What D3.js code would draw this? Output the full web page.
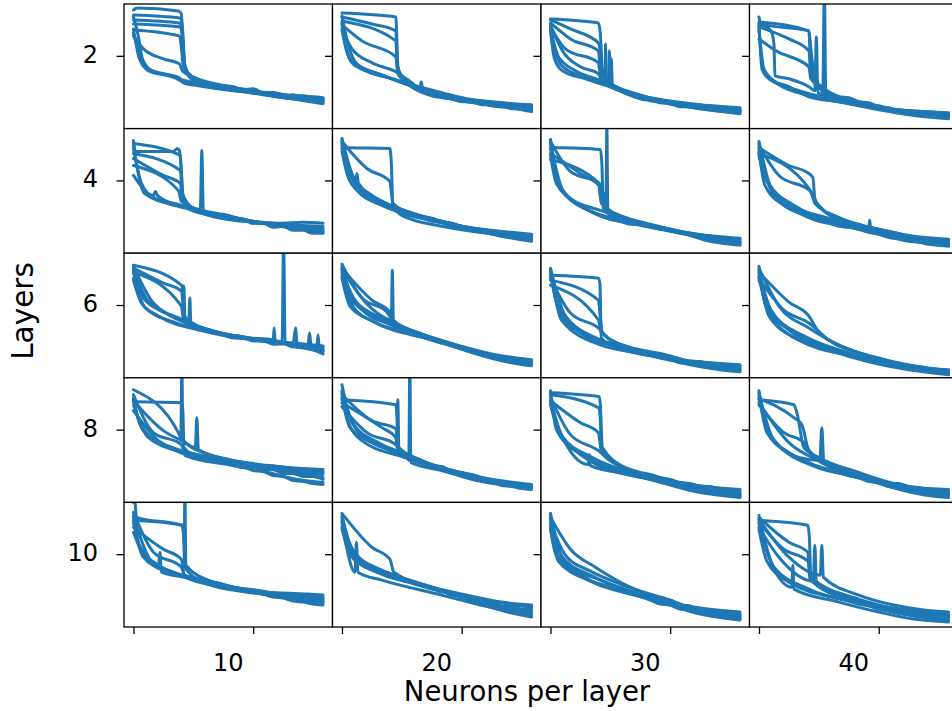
<!DOCTYPE html>
<html>
<head>
<meta charset="utf-8">
<script src="https://cdn.jsdelivr.net/npm/d3@7"></script>
<style>
  body { margin: 0; background: #fff; }
  text { font-family: "DejaVu Sans", sans-serif; fill: #000; }
</style>
</head>
<body>
<svg id="chart" width="952" height="711"></svg>
<script>
// Grid of training-loss curves: one panel per (layers, neurons per layer) setting,
// each panel holding several runs as [epoch, loss] pairs.
const layers = [2, 4, 6, 8, 10];
const neurons = [10, 20, 30, 40];
const epochTicks = [0, 1200];
const lossTicks = [0.73];

const L2_N10 = [
  [[0,1.19],[40,1.21],[450,1.18],[480,1.15],[495,0.90],[515,0.62],[560,0.53],[700,0.47],[1000,0.40],[1200,0.38],[1350,0.35],[1500,0.34],[1650,0.32],[1800,0.32],[1900,0.31]],
  [[0,1.09],[460,1.06],[485,1.00],[505,0.70],[540,0.57],[650,0.49],[900,0.43],[1000,0.42],[1100,0.39],[1200,0.40],[1300,0.36],[1400,0.36],[1500,0.33],[1600,0.34],[1700,0.31],[1800,0.31],[1900,0.29]],
  [[0,1.05],[470,1.02],[490,0.92],[510,0.63],[570,0.53],[800,0.44],[1050,0.40],[1200,0.37],[1400,0.36],[1600,0.31],[1750,0.30],[1900,0.28]],
  [[0,0.99],[460,0.93],[480,0.82],[500,0.62],[580,0.51],[900,0.42],[1150,0.39],[1300,0.35],[1500,0.33],[1700,0.29],[1900,0.27]],
  [[0,0.93],[100,0.80],[300,0.70],[460,0.65],[490,0.58],[620,0.51],[1000,0.41],[1100,0.38],[1200,0.39],[1300,0.35],[1400,0.36],[1500,0.34],[1600,0.33],[1700,0.33],[1800,0.31],[1900,0.30]],
  [[0,0.96],[70,0.73],[150,0.60],[300,0.55],[460,0.51],[500,0.46],[650,0.43],[1000,0.38],[1200,0.36],[1400,0.33],[1600,0.32],[1750,0.29],[1900,0.28]],
  [[0,1.12],[50,0.92],[90,0.70],[180,0.58],[400,0.52],[490,0.47],[700,0.43],[1100,0.37],[1300,0.34],[1500,0.31],[1700,0.29],[1900,0.26]],
  [[0,1.14],[470,1.11],[490,1.02],[515,0.62],[600,0.48],[800,0.42],[1000,0.39],[1300,0.35],[1500,0.34],[1700,0.31],[1900,0.30]],
  [[0,1.00],[60,0.70],[150,0.58],[350,0.53],[480,0.49],[700,0.44],[1000,0.40],[1200,0.37],[1450,0.32],[1650,0.29],[1900,0.25]]
];
const L2_N20 = [
  [[0,1.16],[540,1.12],[550,0.90],[560,0.60],[620,0.48],[900,0.34],[1100,0.31],[1300,0.27],[1500,0.26],[1700,0.23],[1900,0.22]],
  [[0,1.12],[300,1.05],[540,0.98],[555,0.65],[600,0.52],[900,0.33],[1000,0.31],[1100,0.30],[1200,0.27],[1300,0.27],[1400,0.24],[1500,0.25],[1600,0.22],[1700,0.22],[1800,0.21],[1900,0.20]],
  [[0,1.08],[540,0.88],[555,0.62],[650,0.47],[1000,0.32],[1250,0.27],[1500,0.24],[1700,0.21],[1900,0.19]],
  [[0,1.04],[200,0.88],[540,0.72],[560,0.55],[700,0.43],[1100,0.30],[1350,0.27],[1600,0.24],[1900,0.21]],
  [[0,1.00],[100,0.80],[300,0.66],[540,0.57],[700,0.46],[780,0.40],[795,0.47],[810,0.39],[1000,0.34],[1100,0.31],[1200,0.31],[1300,0.27],[1400,0.27],[1500,0.23],[1600,0.23],[1700,0.20],[1800,0.20],[1900,0.18]],
  [[0,0.98],[80,0.70],[200,0.60],[500,0.50],[800,0.40],[1000,0.35],[1200,0.30],[1450,0.27],[1700,0.25],[1900,0.23]],
  [[0,1.13],[60,0.85],[150,0.65],[400,0.54],[600,0.46],[1000,0.34],[1250,0.28],[1500,0.23],[1750,0.20],[1900,0.17]],
  [[0,1.06],[40,0.80],[120,0.64],[350,0.55],[600,0.47],[1000,0.36],[1250,0.30],[1500,0.27],[1700,0.25],[1900,0.24]]
];
const L2_N30 = [
  [[0,1.09],[200,1.00],[480,0.86],[495,0.80],[505,0.55],[600,0.45],[900,0.31],[1100,0.27],[1300,0.24],[1600,0.21],[1900,0.19]],
  [[0,1.10],[480,1.06],[500,0.95],[520,0.60],[560,0.50],[900,0.30],[1000,0.28],[1100,0.26],[1200,0.25],[1300,0.22],[1400,0.22],[1500,0.20],[1600,0.20],[1700,0.18],[1800,0.18],[1900,0.17]],
  [[0,1.06],[200,0.90],[480,0.78],[500,0.60],[548,0.52],[552,0.85],[556,0.50],[700,0.40],[1000,0.29],[1250,0.24],[1500,0.20],[1900,0.16]],
  [[0,1.02],[150,0.80],[480,0.66],[500,0.55],[580,0.47],[590,0.78],[600,0.46],[800,0.36],[1200,0.26],[1450,0.22],[1700,0.20],[1900,0.18]],
  [[0,1.00],[80,0.72],[250,0.58],[480,0.49],[600,0.44],[610,0.70],[620,0.43],[900,0.33],[1000,0.30],[1100,0.29],[1200,0.26],[1300,0.26],[1400,0.23],[1500,0.24],[1600,0.21],[1700,0.21],[1800,0.20],[1900,0.20]],
  [[0,1.05],[50,0.75],[150,0.60],[400,0.50],[700,0.40],[1100,0.28],[1400,0.22],[1650,0.18],[1900,0.15]],
  [[0,0.98],[40,0.70],[120,0.58],[350,0.50],[600,0.42],[1000,0.31],[1250,0.27],[1500,0.24],[1750,0.22],[1900,0.21]],
  [[0,1.04],[120,0.78],[300,0.62],[480,0.55],[520,0.47],[900,0.32],[1200,0.25],[1500,0.21],[1900,0.17]]
];
const L2_N40 = [
  [[0,1.12],[20,1.05],[500,0.98],[520,0.80],[560,0.50],[700,0.33],[1000,0.25],[1300,0.20],[1600,0.16],[1900,0.14]],
  [[0,1.07],[500,0.98],[515,0.70],[540,0.52],[800,0.32],[900,0.28],[1000,0.27],[1100,0.24],[1200,0.23],[1300,0.20],[1400,0.19],[1500,0.16],[1600,0.16],[1700,0.14],[1800,0.13],[1900,0.12]],
  [[0,1.02],[300,0.90],[500,0.78],[520,0.55],[620,0.40],[640,0.36],[655,1.40],[670,0.35],[900,0.27],[1200,0.20],[1500,0.15],[1900,0.11]],
  [[0,1.05],[120,0.98],[150,0.85],[160,0.53],[300,0.50],[500,0.42],[560,0.38],[575,0.92],[590,0.36],[800,0.30],[1100,0.24],[1400,0.19],[1700,0.17],[1900,0.15]],
  [[0,0.90],[170,0.78],[500,0.62],[520,0.50],[700,0.36],[800,0.32],[900,0.31],[1000,0.27],[1100,0.26],[1200,0.22],[1300,0.21],[1400,0.18],[1500,0.18],[1600,0.15],[1700,0.15],[1800,0.13],[1900,0.13]],
  [[0,1.05],[30,0.60],[100,0.50],[300,0.42],[500,0.32],[800,0.27],[1200,0.20],[1500,0.18],[1900,0.16]],
  [[0,1.02],[40,0.62],[150,0.48],[400,0.38],[700,0.30],[1100,0.22],[1400,0.17],[1650,0.14],[1900,0.12]],
  [[0,0.98],[60,0.55],[200,0.44],[500,0.33],[900,0.25],[1200,0.19],[1500,0.14],[1900,0.10]]
];

const L4_N10 = [
  [[0,1.13],[20,1.02],[400,1.02],[440,1.05],[460,1.03],[475,0.90],[500,0.55],[560,0.44],[900,0.36],[1100,0.33],[1300,0.30],[1500,0.28],[1700,0.26],[1900,0.24]],
  [[0,1.00],[470,0.83],[490,0.60],[600,0.45],[800,0.39],[900,0.38],[1000,0.35],[1100,0.34],[1200,0.30],[1300,0.31],[1400,0.27],[1500,0.27],[1600,0.24],[1700,0.24],[1800,0.21],[1900,0.21]],
  [[0,0.88],[450,0.63],[480,0.52],[700,0.42],[1000,0.36],[1200,0.32],[1400,0.29],[1650,0.25],[1900,0.23]],
  [[0,0.78],[200,0.58],[220,0.62],[240,0.58],[450,0.48],[670,0.44],[685,1.03],[700,0.43],[900,0.39],[1100,0.34],[1350,0.29],[1600,0.25],[1900,0.22]],
  [[0,1.08],[110,0.60],[450,0.47],[700,0.41],[800,0.38],[900,0.38],[1000,0.34],[1100,0.34],[1200,0.30],[1300,0.30],[1400,0.26],[1500,0.27],[1600,0.23],[1700,0.23],[1800,0.20],[1900,0.20]],
  [[0,1.05],[80,0.70],[200,0.56],[450,0.49],[800,0.38],[1050,0.34],[1300,0.30],[1600,0.27],[1900,0.25]],
  [[0,0.95],[300,0.78],[470,0.70],[490,0.52],[800,0.39],[1100,0.33],[1400,0.30],[1650,0.28],[1900,0.27]],
  [[0,1.10],[470,0.98],[490,0.56],[650,0.42],[1000,0.33],[1250,0.31],[1500,0.30],[1700,0.31],[1900,0.30]]
];
const L4_N20 = [
  [[0,1.12],[20,1.06],[480,1.05],[495,0.90],[510,0.48],[600,0.38],[1000,0.27],[1300,0.22],[1600,0.19],[1900,0.17]],
  [[0,1.10],[100,0.78],[300,0.57],[550,0.42],[700,0.37],[800,0.35],[900,0.32],[1000,0.31],[1100,0.27],[1200,0.27],[1300,0.24],[1400,0.23],[1500,0.21],[1600,0.20],[1700,0.18],[1800,0.18],[1900,0.16]],
  [[0,1.14],[80,0.80],[200,0.62],[500,0.45],[800,0.36],[1200,0.27],[1550,0.19],[1900,0.14]],
  [[0,1.08],[60,0.85],[140,0.72],[150,0.80],[165,0.70],[400,0.52],[700,0.40],[1000,0.31],[1300,0.25],[1600,0.21],[1900,0.18]],
  [[0,1.05],[150,0.70],[400,0.52],[700,0.40],[800,0.37],[900,0.35],[1000,0.32],[1100,0.30],[1200,0.27],[1300,0.25],[1400,0.22],[1500,0.21],[1600,0.17],[1700,0.16],[1800,0.14],[1900,0.13]],
  [[0,1.12],[250,0.85],[480,0.72],[510,0.50],[800,0.36],[1100,0.28],[1400,0.21],[1700,0.17],[1900,0.15]],
  [[0,1.02],[50,0.80],[150,0.63],[400,0.48],[900,0.33],[1200,0.27],[1500,0.23],[1900,0.19]],
  [[0,1.15],[120,0.75],[300,0.58],[600,0.44],[1000,0.32],[1300,0.24],[1600,0.17],[1900,0.12]]
];
const L4_N30 = [
  [[0,1.06],[500,1.04],[515,0.90],[530,0.45],[600,0.38],[900,0.29],[1200,0.22],[1500,0.17],[1900,0.14]],
  [[0,0.94],[500,0.69],[520,0.50],[700,0.35],[800,0.32],[900,0.30],[1000,0.28],[1100,0.26],[1200,0.24],[1300,0.21],[1400,0.20],[1500,0.17],[1600,0.16],[1700,0.14],[1800,0.13],[1900,0.12]],
  [[0,1.00],[300,0.80],[500,0.66],[540,0.56],[555,0.46],[565,1.26],[575,0.44],[800,0.33],[1100,0.26],[1400,0.20],[1900,0.15]],
  [[0,1.14],[100,0.65],[400,0.42],[900,0.28],[1400,0.19],[1650,0.13],[1900,0.09]],
  [[0,1.10],[130,0.62],[450,0.40],[600,0.34],[700,0.32],[800,0.29],[900,0.29],[1000,0.27],[1100,0.24],[1200,0.23],[1300,0.20],[1400,0.19],[1500,0.16],[1600,0.15],[1700,0.13],[1800,0.12],[1900,0.11]],
  [[0,1.05],[70,0.75],[200,0.55],[500,0.43],[1000,0.29],[1300,0.22],[1600,0.17],[1900,0.13]],
  [[0,1.12],[200,0.82],[480,0.70],[510,0.50],[800,0.34],[1150,0.24],[1500,0.16],[1900,0.10]],
  [[0,0.98],[60,0.70],[300,0.48],[700,0.33],[1300,0.21],[1600,0.12],[1900,0.08]]
];
const L4_N40 = [
  [[0,1.06],[300,0.88],[500,0.80],[540,0.76],[560,0.55],[600,0.47],[900,0.30],[1200,0.21],[1550,0.13],[1900,0.10]],
  [[0,1.00],[500,0.65],[550,0.55],[800,0.34],[900,0.30],[1000,0.29],[1100,0.25],[1200,0.24],[1300,0.20],[1400,0.19],[1500,0.16],[1600,0.16],[1700,0.13],[1800,0.13],[1900,0.12]],
  [[0,1.10],[120,0.64],[400,0.42],[1000,0.27],[1100,0.25],[1110,0.33],[1120,0.25],[1400,0.17],[1700,0.11],[1900,0.08]],
  [[0,1.05],[100,0.70],[350,0.48],[800,0.32],[1200,0.22],[1550,0.16],[1900,0.13]],
  [[0,1.12],[150,0.58],[450,0.38],[600,0.32],[700,0.30],[800,0.27],[900,0.26],[1000,0.24],[1100,0.21],[1200,0.19],[1300,0.16],[1400,0.14],[1500,0.12],[1600,0.11],[1700,0.09],[1800,0.08],[1900,0.07]],
  [[0,0.98],[80,0.72],[300,0.50],[700,0.35],[1300,0.22],[1600,0.15],[1900,0.11]],
  [[0,1.08],[200,0.78],[520,0.62],[560,0.50],[800,0.36],[1200,0.24],[1550,0.17],[1900,0.14]],
  [[0,1.02],[60,0.68],[250,0.48],[600,0.35],[1000,0.24],[1400,0.15],[1900,0.09]]
];

const L6_N10 = [
  [[0,1.13],[480,0.93],[495,0.88],[500,0.78],[505,0.92],[515,0.62],[600,0.52],[1000,0.42],[1200,0.39],[1400,0.36],[1650,0.33],[1900,0.30]],
  [[0,1.10],[300,0.95],[480,0.87],[510,0.62],[555,0.58],[565,0.80],[575,0.56],[900,0.44],[1000,0.42],[1100,0.41],[1200,0.38],[1300,0.38],[1400,0.34],[1500,0.34],[1600,0.31],[1700,0.30],[1800,0.28],[1900,0.27]],
  [[0,1.08],[140,0.78],[440,0.60],[900,0.43],[1150,0.40],[1400,0.38],[1490,0.36],[1505,1.40],[1520,0.35],[1700,0.31],[1900,0.28]],
  [[0,1.05],[100,0.80],[300,0.66],[800,0.46],[1100,0.41],[1400,0.37],[1410,0.50],[1420,0.36],[1650,0.33],[1900,0.31]],
  [[0,1.12],[200,0.75],[500,0.58],[1000,0.42],[1300,0.37],[1600,0.34],[1625,0.50],[1640,0.33],[1800,0.28],[1900,0.24]],
  [[0,0.98],[80,0.75],[250,0.62],[700,0.47],[1200,0.38],[1500,0.35],[1750,0.33],[1765,0.45],[1780,0.32],[1840,0.33],[1850,0.43],[1860,0.32],[1900,0.26]],
  [[0,1.00],[120,0.70],[400,0.56],[900,0.43],[1000,0.40],[1100,0.40],[1200,0.37],[1300,0.37],[1400,0.34],[1500,0.35],[1600,0.32],[1700,0.32],[1800,0.29],[1900,0.29]],
  [[0,1.06],[480,0.72],[500,0.60],[800,0.47],[1100,0.41],[1400,0.37],[1700,0.34],[1900,0.32]]
];
const L6_N20 = [
  [[0,1.10],[300,0.78],[480,0.66],[495,0.60],[505,1.08],[515,0.58],[800,0.42],[1100,0.32],[1400,0.23],[1700,0.18],[1900,0.15]],
  [[0,1.12],[100,0.82],[300,0.64],[700,0.45],[800,0.42],[900,0.38],[1000,0.37],[1100,0.33],[1200,0.31],[1300,0.27],[1400,0.25],[1500,0.21],[1600,0.19],[1700,0.16],[1800,0.15],[1900,0.13]],
  [[0,1.08],[60,0.85],[200,0.68],[500,0.53],[1000,0.36],[1350,0.26],[1650,0.19],[1900,0.16]],
  [[0,1.05],[150,0.75],[400,0.60],[800,0.44],[1150,0.33],[1500,0.24],[1900,0.18]],
  [[0,1.00],[80,0.72],[300,0.57],[900,0.38],[1000,0.35],[1100,0.34],[1200,0.30],[1300,0.28],[1400,0.24],[1500,0.23],[1600,0.19],[1700,0.18],[1800,0.15],[1900,0.14]],
  [[0,1.14],[200,0.80],[450,0.66],[520,0.56],[900,0.40],[1250,0.27],[1600,0.17],[1900,0.12]],
  [[0,1.02],[120,0.70],[350,0.55],[700,0.44],[1300,0.27],[1600,0.21],[1900,0.17]],
  [[0,1.09],[250,0.74],[600,0.52],[1100,0.34],[1450,0.24],[1700,0.18],[1900,0.15]]
];
const L6_N30 = [
  [[0,1.03],[480,1.00],[495,0.95],[510,0.40],[600,0.33],[1000,0.22],[1350,0.15],[1650,0.12],[1900,0.10]],
  [[0,0.98],[480,0.78],[500,0.60],[520,0.45],[800,0.30],[900,0.27],[1000,0.25],[1100,0.23],[1200,0.20],[1300,0.19],[1400,0.16],[1500,0.16],[1600,0.14],[1700,0.14],[1800,0.12],[1900,0.12]],
  [[0,0.93],[480,0.58],[510,0.45],[900,0.27],[1250,0.17],[1600,0.11],[1900,0.08]],
  [[0,1.08],[110,0.58],[500,0.33],[1000,0.23],[1400,0.13],[1700,0.08],[1900,0.06]],
  [[0,1.05],[80,0.70],[300,0.45],[800,0.28],[900,0.25],[1000,0.24],[1100,0.20],[1200,0.19],[1300,0.15],[1400,0.15],[1500,0.12],[1600,0.12],[1700,0.10],[1800,0.10],[1900,0.09]],
  [[0,1.10],[150,0.62],[500,0.38],[1100,0.22],[1450,0.15],[1900,0.11]],
  [[0,1.00],[200,0.65],[480,0.50],[600,0.38],[1200,0.22],[1550,0.12],[1900,0.07]],
  [[0,1.06],[60,0.76],[250,0.50],[700,0.32],[1100,0.22],[1500,0.16],[1900,0.13]]
];
const L6_N40 = [
  [[0,1.08],[120,0.68],[420,0.43],[900,0.23],[1300,0.15],[1600,0.10],[1900,0.08]],
  [[0,1.05],[100,0.62],[400,0.38],[1000,0.20],[1100,0.17],[1200,0.16],[1300,0.12],[1400,0.12],[1500,0.09],[1600,0.09],[1700,0.07],[1800,0.07],[1900,0.05]],
  [[0,1.10],[200,0.72],[500,0.50],[800,0.33],[1200,0.19],[1550,0.11],[1900,0.07]],
  [[0,1.02],[80,0.70],[300,0.48],[900,0.24],[1300,0.13],[1650,0.07],[1900,0.04]],
  [[0,0.98],[150,0.62],[450,0.42],[1000,0.22],[1100,0.19],[1200,0.18],[1300,0.14],[1400,0.14],[1500,0.11],[1600,0.11],[1700,0.09],[1800,0.08],[1900,0.06]],
  [[0,1.06],[300,0.76],[500,0.62],[600,0.46],[1000,0.25],[1400,0.13],[1700,0.08],[1900,0.05]],
  [[0,1.12],[60,0.75],[250,0.47],[700,0.28],[1100,0.16],[1500,0.08],[1900,0.03]],
  [[0,1.00],[250,0.68],[500,0.55],[700,0.38],[1200,0.20],[1550,0.12],[1900,0.07]]
];

const L8_N10 = [
  [[0,1.01],[480,1.00],[495,0.92],[505,0.55],[600,0.48],[1000,0.40],[1300,0.36],[1600,0.31],[1900,0.28]],
  [[0,1.13],[450,0.70],[475,0.65],[485,1.40],[495,0.63],[700,0.50],[1200,0.39],[1450,0.36],[1700,0.33],[1900,0.31]],
  [[0,1.02],[300,0.72],[480,0.62],[620,0.55],[635,0.85],[650,0.53],[1000,0.42],[1300,0.35],[1600,0.29],[1900,0.25]],
  [[0,1.03],[90,0.73],[400,0.53],[1000,0.38],[1100,0.35],[1200,0.36],[1300,0.32],[1400,0.33],[1500,0.29],[1600,0.29],[1700,0.26],[1800,0.26],[1900,0.23]],
  [[0,0.98],[150,0.65],[500,0.50],[900,0.40],[1000,0.37],[1100,0.36],[1200,0.32],[1300,0.31],[1400,0.27],[1500,0.26],[1600,0.22],[1700,0.21],[1800,0.19],[1900,0.18]],
  [[0,1.08],[200,0.70],[480,0.58],[520,0.47],[1000,0.37],[1350,0.30],[1650,0.23],[1900,0.20]],
  [[0,1.05],[60,0.80],[300,0.58],[800,0.45],[1200,0.38],[1550,0.35],[1900,0.33]],
  [[0,0.92],[250,0.62],[450,0.53],[900,0.43],[1200,0.38],[1500,0.34],[1750,0.31],[1900,0.30]]
];
const L8_N20 = [
  [[0,1.03],[540,0.98],[555,0.80],[570,0.55],[700,0.43],[1100,0.32],[1400,0.23],[1700,0.18],[1900,0.16]],
  [[0,1.18],[100,0.80],[400,0.58],[660,0.45],[670,0.42],[680,1.40],[690,0.40],[1000,0.32],[1350,0.22],[1650,0.17],[1900,0.14]],
  [[0,1.00],[400,0.75],[540,0.65],[550,0.58],[560,1.03],[570,0.55],[800,0.42],[1150,0.30],[1500,0.22],[1900,0.17]],
  [[0,1.10],[150,0.72],[500,0.52],[900,0.38],[1000,0.34],[1100,0.32],[1200,0.28],[1300,0.26],[1400,0.22],[1500,0.21],[1600,0.17],[1700,0.16],[1800,0.14],[1900,0.13]],
  [[0,1.05],[80,0.75],[300,0.60],[800,0.42],[900,0.37],[1000,0.36],[1100,0.31],[1200,0.30],[1300,0.25],[1400,0.24],[1500,0.20],[1600,0.19],[1700,0.17],[1800,0.16],[1900,0.15]],
  [[0,0.96],[250,0.70],[540,0.58],[580,0.50],[1000,0.35],[1350,0.26],[1650,0.21],[1900,0.18]],
  [[0,1.12],[60,0.82],[200,0.62],[600,0.46],[1000,0.34],[1300,0.28],[1600,0.19],[1900,0.14]],
  [[0,1.08],[300,0.82],[540,0.74],[570,0.52],[900,0.38],[1250,0.28],[1600,0.20],[1900,0.16]]
];
const L8_N30 = [
  [[0,1.08],[480,0.95],[495,0.90],[515,0.50],[700,0.36],[1100,0.24],[1450,0.15],[1900,0.10]],
  [[0,1.10],[490,1.06],[500,0.98],[520,0.55],[800,0.32],[1200,0.19],[1550,0.11],[1900,0.08]],
  [[0,1.02],[300,0.80],[480,0.70],[510,0.52],[900,0.30],[1000,0.28],[1100,0.25],[1200,0.23],[1300,0.20],[1400,0.19],[1500,0.16],[1600,0.16],[1700,0.13],[1800,0.13],[1900,0.12]],
  [[0,1.05],[100,0.70],[380,0.38],[390,0.48],[400,0.37],[800,0.28],[1200,0.18],[1550,0.11],[1900,0.07]],
  [[0,1.12],[60,0.73],[300,0.48],[500,0.36],[1000,0.23],[1450,0.11],[1900,0.05]],
  [[0,0.98],[80,0.72],[300,0.50],[900,0.27],[1000,0.25],[1100,0.21],[1200,0.20],[1300,0.16],[1400,0.16],[1500,0.13],[1600,0.12],[1700,0.10],[1800,0.10],[1900,0.09]],
  [[0,1.06],[200,0.68],[480,0.52],[600,0.42],[1200,0.22],[1550,0.16],[1900,0.13]],
  [[0,1.00],[120,0.66],[400,0.46],[1000,0.26],[1400,0.14],[1700,0.09],[1900,0.06]]
];
const L8_N40 = [
  [[0,1.03],[350,0.98],[380,0.90],[450,0.55],[600,0.45],[1000,0.30],[1350,0.19],[1650,0.13],[1900,0.10]],
  [[0,1.05],[100,0.70],[400,0.45],[610,0.42],[630,0.75],[650,0.40],[900,0.30],[1250,0.19],[1600,0.11],[1900,0.08]],
  [[0,1.00],[300,0.60],[600,0.42],[790,0.35]],
  [[0,1.10],[150,0.62],[500,0.40],[1100,0.22],[1450,0.12],[1700,0.07],[1900,0.05]],
  [[0,1.08],[80,0.70],[300,0.50],[900,0.28],[1000,0.27],[1100,0.24],[1200,0.23],[1300,0.19],[1400,0.19],[1500,0.16],[1600,0.15],[1700,0.13],[1800,0.13],[1900,0.12]],
  [[0,0.98],[250,0.70],[450,0.60],[550,0.45],[1000,0.27],[1350,0.16],[1650,0.10],[1900,0.07]],
  [[0,1.12],[60,0.80],[250,0.52],[700,0.33],[800,0.30],[900,0.27],[1000,0.25],[1100,0.21],[1200,0.20],[1300,0.16],[1400,0.15],[1500,0.12],[1600,0.12],[1700,0.10],[1800,0.10],[1900,0.09]],
  [[0,1.04],[350,0.85],[430,0.78],[500,0.52],[850,0.32],[1200,0.20],[1550,0.15],[1900,0.13]]
];

const L10_N10 = [
  [[0,1.25],[10,1.30],[30,1.10],[480,1.02],[500,0.95],[515,0.60],[700,0.45],[1000,0.37],[1300,0.33],[1600,0.30],[1900,0.28]],
  [[0,1.07],[500,1.02],[510,0.85],[515,1.40],[525,0.62],[800,0.45],[1100,0.38],[1400,0.34],[1650,0.32],[1900,0.30]],
  [[0,1.10],[250,0.60],[265,0.75],[280,0.55],[500,0.50],[1000,0.38],[1300,0.33],[1600,0.28],[1900,0.25]],
  [[0,1.15],[200,0.75],[480,0.60],[520,0.50],[900,0.40],[1200,0.36],[1500,0.34],[1750,0.33],[1900,0.32]],
  [[0,1.05],[100,0.70],[400,0.55],[900,0.43],[1000,0.40],[1100,0.38],[1200,0.35],[1300,0.33],[1400,0.30],[1500,0.29],[1600,0.26],[1700,0.25],[1800,0.23],[1900,0.22]],
  [[0,1.00],[300,0.78],[480,0.68],[510,0.52],[1000,0.40],[1300,0.34],[1600,0.29],[1900,0.26]],
  [[0,1.12],[60,0.82],[250,0.62],[800,0.44],[900,0.40],[1000,0.40],[1100,0.36],[1200,0.36],[1300,0.33],[1400,0.34],[1500,0.31],[1600,0.31],[1700,0.30],[1800,0.30],[1900,0.29]],
  [[0,0.95],[150,0.65],[600,0.48],[1000,0.40],[1300,0.36],[1600,0.29],[1900,0.24]]
];
const L10_N20 = [
  [[0,1.12],[60,0.88],[150,0.72],[400,0.57],[800,0.42],[1200,0.31],[1550,0.21],[1900,0.15]],
  [[0,1.08],[130,0.55],[145,0.85],[160,0.55],[400,0.47],[1000,0.32],[1350,0.23],[1650,0.16],[1900,0.12]],
  [[0,1.05],[60,0.80],[200,0.64],[600,0.47],[800,0.41],[900,0.38],[1000,0.36],[1100,0.32],[1200,0.31],[1300,0.28],[1400,0.28],[1500,0.24],[1600,0.24],[1700,0.22],[1800,0.21],[1900,0.20]],
  [[0,1.10],[100,0.78],[250,0.63],[500,0.53],[1000,0.37],[1400,0.23],[1700,0.14],[1900,0.10]],
  [[0,1.00],[80,0.72],[400,0.53],[900,0.39],[1000,0.35],[1100,0.34],[1200,0.30],[1300,0.29],[1400,0.25],[1500,0.24],[1600,0.21],[1700,0.21],[1800,0.18],[1900,0.18]],
  [[0,1.14],[300,0.80],[480,0.68],[520,0.55],[1000,0.37],[1350,0.26],[1650,0.18],[1900,0.14]],
  [[0,0.98],[150,0.66],[500,0.51],[900,0.40],[1300,0.31],[1600,0.25],[1900,0.22]],
  [[0,1.06],[100,0.76],[300,0.60],[700,0.46],[1100,0.33],[1500,0.22],[1900,0.16]]
];
const L10_N30 = [
  [[0,1.12],[60,0.80],[200,0.62],[500,0.47],[900,0.32],[1300,0.20],[1600,0.14],[1900,0.10]],
  [[0,1.08],[100,0.72],[300,0.52],[600,0.40],[1100,0.25],[1500,0.13],[1900,0.07]],
  [[0,1.05],[150,0.72],[400,0.56],[700,0.43],[1000,0.32],[1100,0.28],[1200,0.27],[1300,0.22],[1400,0.21],[1500,0.17],[1600,0.17],[1700,0.14],[1800,0.14],[1900,0.12]],
  [[0,1.00],[50,0.74],[200,0.58],[700,0.37],[1100,0.26],[1500,0.19],[1900,0.15]],
  [[0,1.10],[200,0.78],[450,0.60],[800,0.40],[1200,0.27],[1550,0.14],[1900,0.08]],
  [[0,0.98],[80,0.66],[400,0.46],[1000,0.27],[1100,0.23],[1200,0.22],[1300,0.18],[1400,0.17],[1500,0.14],[1600,0.13],[1700,0.11],[1800,0.11],[1900,0.09]],
  [[0,1.14],[120,0.70],[400,0.52],[900,0.33],[1300,0.22],[1650,0.16],[1900,0.13]],
  [[0,1.03],[80,0.75],[300,0.53],[800,0.34],[1200,0.25],[1600,0.15],[1900,0.11]]
];
const L10_N40 = [
  [[0,1.07],[490,1.02],[505,0.90],[520,0.50],[800,0.33],[1150,0.20],[1500,0.12],[1900,0.08]],
  [[0,1.10],[300,0.85],[490,0.75],[510,0.48],[900,0.28],[1000,0.26],[1100,0.22],[1200,0.21],[1300,0.17],[1400,0.17],[1500,0.14],[1600,0.13],[1700,0.11],[1800,0.11],[1900,0.10]],
  [[0,1.04],[100,0.70],[330,0.40],[340,0.62],[350,0.38],[800,0.25],[1200,0.15],[1550,0.08],[1900,0.05]],
  [[0,1.00],[200,0.70],[545,0.46],[560,0.82],[575,0.43],[1000,0.25],[1350,0.18],[1650,0.14],[1900,0.12]],
  [[0,1.08],[300,0.70],[615,0.52],[630,0.82],[645,0.50],[1000,0.32],[1350,0.22],[1650,0.17],[1900,0.15]],
  [[0,1.12],[150,0.60],[500,0.38],[1100,0.22],[1450,0.13],[1700,0.09],[1900,0.07]],
  [[0,0.98],[80,0.66],[300,0.45],[900,0.26],[1000,0.23],[1100,0.21],[1200,0.18],[1300,0.16],[1400,0.14],[1500,0.13],[1600,0.11],[1700,0.10],[1800,0.10],[1900,0.09]],
  [[0,1.05],[250,0.78],[490,0.66],[520,0.50],[1000,0.28],[1350,0.19],[1650,0.15],[1900,0.13]]
];

const panelRuns = [
  [L2_N10, L2_N20, L2_N30, L2_N40],
  [L4_N10, L4_N20, L4_N30, L4_N40],
  [L6_N10, L6_N20, L6_N30, L6_N40],
  [L8_N10, L8_N20, L8_N30, L8_N40],
  [L10_N10, L10_N20, L10_N30, L10_N40]
];

// ---- layout ----
const gridLeft = 124, gridTop = 4;
const cellW = 208.5, cellH = 124.6;
const lineColor = "#1f77b4";

const x = d3.scaleLinear().domain([-95, 1995]).range([0, cellW]);
const y = d3.scaleLinear().domain([0, 1.25]).range([cellH, 0]);

const line = d3.line()
  .x(d => x(d[0]))
  .y(d => y(d[1]))
  .curve(d3.curveMonotoneX);

const svg = d3.select("#chart");
svg.append("rect").attr("width", 952).attr("height", 711).attr("fill", "#fff");

const defs = svg.append("defs");
defs.append("clipPath").attr("id", "cell-clip")
  .append("rect").attr("width", cellW).attr("height", cellH);

// panels are painted row by row, so a later panel's background hides
// the ticks that an earlier one pokes into it
layers.forEach((nl, r) => {
  neurons.forEach((nn, c) => {
    const g = svg.append("g")
      .attr("transform", `translate(${gridLeft + c * cellW},${gridTop + r * cellH})`);

    g.append("rect").attr("width", cellW).attr("height", cellH).attr("fill", "#fff");

    g.append("g").attr("clip-path", "url(#cell-clip)")
      .selectAll("path")
      .data(panelRuns[r][c])
      .join("path")
      .attr("d", line)
      .attr("fill", "none")
      .attr("stroke", lineColor)
      .attr("stroke-width", 3)
      .attr("stroke-linejoin", "round")
      .attr("stroke-linecap", "round");

    const ya = d3.axisLeft(y).tickValues(lossTicks).tickSize(7.5).tickFormat(() => "");
    const yg = g.append("g").call(ya);
    yg.select(".domain").remove();
    yg.selectAll(".tick line").attr("stroke", "#000").attr("stroke-width", 1.3);

    const xa = d3.axisBottom(x).tickValues(epochTicks).tickSize(7).tickFormat(() => "");
    const xg = g.append("g").attr("transform", `translate(0,${cellH})`).call(xa);
    xg.select(".domain").remove();
    xg.selectAll(".tick line").attr("stroke", "#000").attr("stroke-width", 1.3);

    // spines
    g.append("rect").attr("width", cellW).attr("height", cellH)
      .attr("fill", "none").attr("stroke", "#000").attr("stroke-width", 1.3);

    if (c === 0) {
      g.append("text")
        .attr("x", -26).attr("y", y(lossTicks[0]) + 7)
        .attr("text-anchor", "end")
        .attr("font-size", 24)
        .text(nl);
    }
    if (r === layers.length - 1) {
      g.append("text")
        .attr("x", cellW / 2).attr("y", cellH + 44)
        .attr("text-anchor", "middle")
        .attr("font-size", 24)
        .text(nn);
    }
  });
});

svg.append("text")
  .attr("x", 527).attr("y", 701)
  .attr("text-anchor", "middle")
  .attr("font-size", 27.5)
  .text("Neurons per layer");

svg.append("text")
  .attr("transform", "translate(33,311) rotate(-90)")
  .attr("text-anchor", "middle")
  .attr("font-size", 29.5)
  .text("Layers");
</script>
</body>
</html>
